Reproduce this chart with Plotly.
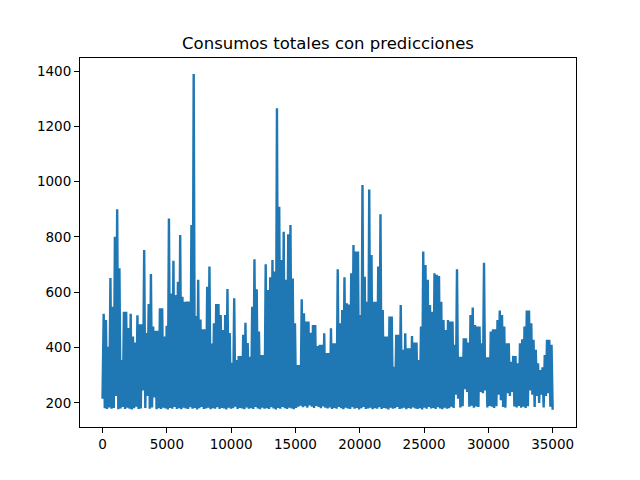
import numpy as np
import plotly.graph_objects as go

# Consumo total (hourly index), read off the picture as alternating
# local peaks and local troughs of the dense series
peak_consumo = [
    522, 500, 403, 652, 548, 801, 900, 687, 355, 530,
    530, 471, 522, 440, 418, 517, 484, 484, 753, 453,
    558, 666, 476, 461, 461, 542, 542, 440, 479, 867,
    596, 714, 590, 638, 807, 584, 566, 567, 567, 843,
    1389, 514, 645, 502, 466, 466, 620, 693, 415, 488,
    558, 558, 518, 464, 518, 612, 453, 345, 578, 355,
    370, 370, 446, 490, 417, 367, 548, 719, 611, 458,
    373, 373, 701, 608, 654, 717, 675, 1265, 909, 717,
    819, 645, 810, 843, 650, 488, 337, 337, 575, 524,
    494, 494, 454, 482, 482, 406, 410, 410, 452, 380,
    380, 470, 416, 416, 683, 488, 536, 654, 560, 556,
    669, 771, 747, 747, 518, 988, 656, 566, 972, 735,
    566, 566, 693, 882, 536, 440, 440, 512, 512, 331,
    446, 446, 554, 392, 452, 398, 398, 442, 418, 418,
    355, 476, 747, 699, 645, 554, 530, 669, 663, 659,
    566, 500, 464, 500, 494, 494, 410, 683, 367, 367,
    434, 434, 418, 518, 545, 482, 476, 476, 416, 707,
    365, 365, 458, 466, 466, 500, 534, 518, 476, 416,
    416, 349, 370, 370, 343, 416, 430, 476, 534, 534,
    488, 428, 392, 343, 319, 329, 373, 428, 428, 410,
]

trough_consumo = [
    215, 181, 178, 184, 179, 182, 225, 177, 180, 185,
    178, 183, 179, 176, 181, 186, 178, 180, 245, 182,
    225, 179, 184, 220, 177, 181, 178, 183, 180, 176,
    182, 179, 185, 178, 181, 177, 183, 180, 178, 184,
    179, 182, 176, 181, 185, 178, 180, 183, 177, 181,
    179, 184, 178, 182, 180, 176, 183, 179, 181, 186,
    178, 182, 180, 177, 184, 179, 181, 178, 185, 180,
    177, 183, 179, 181, 178, 184, 180, 176, 182, 179,
    185, 181, 178, 183, 180, 177, 182, 186, 190, 184,
    188, 183, 191, 186, 182, 189, 185, 181, 187, 183,
    180, 184, 178, 182, 179, 185, 181, 177, 183, 180,
    178, 184, 179, 182, 176, 181, 185, 178, 180, 183,
    177, 181, 179, 184, 178, 182, 180, 176, 183, 179,
    181, 185, 178, 180, 183, 177, 182, 179, 184, 180,
    178, 181, 176, 183, 179, 185, 180, 182, 178, 184,
    180, 177, 183, 179, 181, 186, 182, 230, 215, 184,
    188, 250, 240, 186, 190, 183, 187, 185, 240, 235,
    245, 184, 189, 186, 182, 188, 230, 210, 185, 183,
    235, 225, 240, 187, 184, 189, 183, 186, 182, 188,
    245, 230, 185, 225, 200, 230, 184, 225, 235, 186,
    175,
]

x_ticks = [0, 5000, 10000, 15000, 20000, 25000, 30000, 35000]
y_ticks = [200, 400, 600, 800, 1000, 1200, 1400]

# interleave troughs and peaks
consumo = []
for t, p in zip(trough_consumo, peak_consumo):
    consumo += [t, p]
consumo.append(trough_consumo[-1])
horas = np.arange(len(consumo)) * 87.5

fig = go.Figure()
fig.add_trace(go.Scatter(
    x=horas, y=consumo, mode='lines',
    line=dict(color='#1f77b4', width=2.4),
    showlegend=False,
))

axis_style = dict(
    showgrid=False, zeroline=False,
    showline=True, mirror=True, linecolor='black', linewidth=1.1,
    ticks='outside', ticklen=5, tickwidth=1.1, tickcolor='black',
    tickfont=dict(family='DejaVu Sans', size=13.5, color='black'),
)

# page body adds an 8px offset, margins compensate for it
fig.update_layout(
    width=640, height=480,
    margin=dict(l=72, r=72, t=50, b=61),
    paper_bgcolor='white', plot_bgcolor='white',
    title=dict(text='Consumos totales con predicciones',
               x=0.5, xref='paper', y=1 - 35 / 480, yanchor='middle',
               font=dict(family='DejaVu Sans', size=16.5, color='black')),
    xaxis=dict(range=[-1753, 36816], tickvals=x_ticks,
               ticktext=[str(v) for v in x_ticks], **axis_style),
    yaxis=dict(range=[113, 1447], tickvals=y_ticks,
               ticktext=[str(v) for v in y_ticks], **axis_style),
)

fig.write_html("out.html")
